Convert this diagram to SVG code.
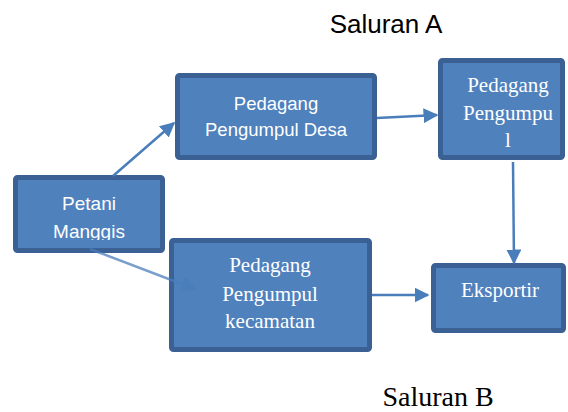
<svg xmlns="http://www.w3.org/2000/svg" width="568" height="412" viewBox="0 0 568 412">
<defs>
<style>
.box{fill:#4f81bd;stroke:#3a6094;stroke-width:5}
.sans{font-family:"Liberation Sans",Arial,sans-serif;fill:#ffffff;text-anchor:middle}
.serif{font-family:"Liberation Serif","Times New Roman",serif;fill:#ffffff;text-anchor:middle}
.conn{stroke:#4a7ebb;stroke-width:2.5;fill:none;marker-end:url(#ah)}
</style>
<marker id="ah" viewBox="0 0 10 10" refX="9" refY="5" markerWidth="6" markerHeight="6" orient="auto" markerUnits="strokeWidth">
<path d="M0,0 L10,5 L0,10 z" fill="#4a7ebb"/>
</marker>
<clipPath id="clipP"><rect x="15" y="177" width="150" height="63"/></clipPath>
</defs>
<rect width="568" height="412" fill="#ffffff"/>
<text x="386" y="33" font-family="'Liberation Sans',Arial,sans-serif" font-size="26" fill="#000" text-anchor="middle">Saluran A</text>
<text x="438" y="406" font-family="'Liberation Serif','Times New Roman',serif" font-size="28" fill="#000" text-anchor="middle">Saluran B</text>
<g id="petani">
<rect class="box" x="15.5" y="177.5" width="147" height="73" rx="2"/>
<g clip-path="url(#clipP)">
<text class="sans" x="89" y="210" font-size="19">Petani</text>
<text class="sans" x="89" y="238" font-size="19">Manggis</text>
</g>
</g>
<g id="desa">
<rect class="box" x="177.5" y="75.5" width="197" height="82" rx="2"/>
<text class="sans" x="276" y="110" font-size="18.5">Pedagang</text>
<text class="sans" x="276" y="136" font-size="18.5">Pengumpul Desa</text>
</g>
<g id="pengumpul">
<rect class="box" x="440.5" y="60.5" width="122" height="97" rx="2"/>
<text class="serif" x="508" y="92" font-size="21">Pedagang</text>
<text class="serif" x="508" y="120" font-size="21">Pengumpu</text>
<text class="serif" x="508" y="147" font-size="21">l</text>
</g>
<g id="kecamatan">
<rect class="box" x="171.5" y="240.5" width="198" height="109" rx="2"/>
<text class="serif" x="270" y="272" font-size="21">Pedagang</text>
<text class="serif" x="270" y="301" font-size="21">Pengumpul</text>
<text class="serif" x="270" y="328" font-size="21">kecamatan</text>
</g>
<g id="eksportir">
<rect class="box" x="433.5" y="265.5" width="130" height="65" rx="2"/>
<text class="serif" x="500" y="297" font-size="21">Eksportir</text>
</g>
<g id="connectors">
<line class="conn" x1="113" y1="176" x2="174" y2="123"/>
<line class="conn" x1="377" y1="118" x2="437" y2="115"/>
<line class="conn" x1="513" y1="162" x2="514" y2="263"/>
<line class="conn" x1="90" y1="249" x2="195" y2="289" stroke-opacity="0.75"/>
<line class="conn" x1="372" y1="295" x2="428" y2="295"/>
</g>
</svg>
